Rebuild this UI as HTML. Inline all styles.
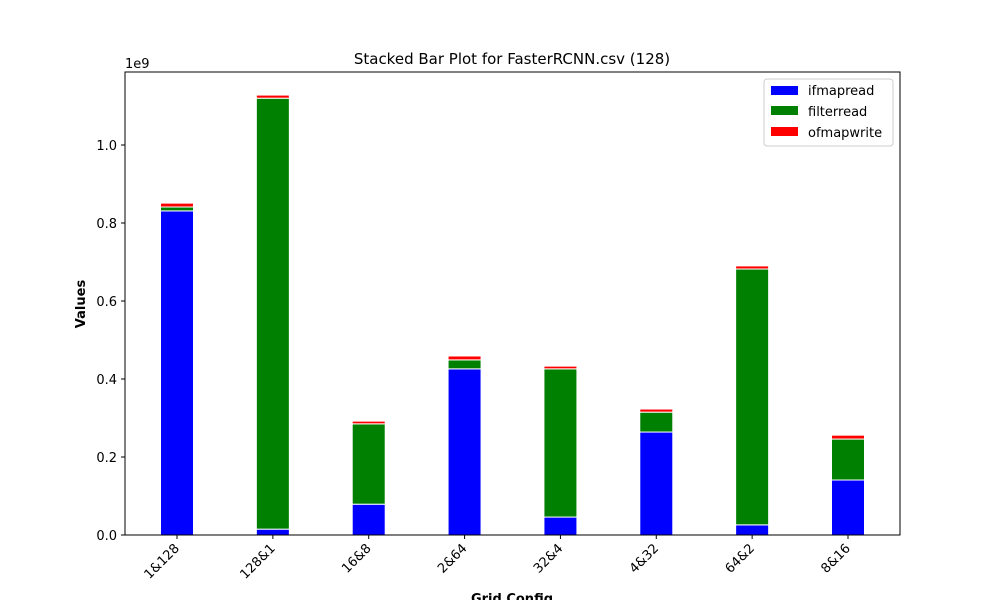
<!DOCTYPE html>
<html><head><meta charset="utf-8"><style>
body{margin:0;background:#fff;font-family:"Liberation Sans","DejaVu Sans",sans-serif;}
</style></head><body>
<svg id="chart" width="1000" height="600" xmlns="http://www.w3.org/2000/svg" font-family="DejaVu Sans, Liberation Sans, sans-serif">
<rect width="1000" height="600" fill="#fff"/>
<text x="512" y="64" text-anchor="middle" font-size="15">Stacked Bar Plot for FasterRCNN.csv (128)</text>
<text x="125" y="68" font-size="13">1e9</text>
<text x="85" y="304" text-anchor="middle" font-size="13" font-weight="bold" transform="rotate(-90 85 304)">Values</text>
<text x="512" y="603" text-anchor="middle" font-size="13" font-weight="bold">Grid Config</text>
<g id="bars"></g><g id="axes"></g>
<g>
<rect x="764" y="79" width="129" height="67" fill="#fff" stroke="#ccc" rx="3"/>
<rect x="771" y="86" width="27" height="9" fill="#0000ff"/>
<text x="808" y="95" font-size="13">ifmapread</text>
<rect x="771" y="106" width="27" height="9" fill="#008000"/>
<text x="808" y="116" font-size="13">filterread</text>
<rect x="771" y="127" width="27" height="9" fill="#ff0000"/>
<text x="808" y="137" font-size="13">ofmapwrite</text>
</g>
</svg>
<script>
const categories=["1&128","128&1","16&8","2&64","32&4","4&32","64&2","8&16"];
const ifmapread=[0.831,0.015,0.079,0.426,0.046,0.264,0.026,0.141];
const filterread=[0.010,1.105,0.206,0.023,0.380,0.051,0.656,0.105];
const ofmapwrite=[0.010,0.008,0.007,0.010,0.007,0.008,0.008,0.010];
const yTicks=[0,0.2,0.4,0.6,0.8,1.0];
const yTickLabels=["0.0","0.2","0.4","0.6","0.8","1.0"];
const NS="http://www.w3.org/2000/svg";
const L=125,R=900,T=72,B=535;
const y=v=>B-v*390;
const step=(848-177)/(categories.length-1);
const x=i=>177+step*i;
const bw=33;
const bars=document.getElementById('bars'),axes=document.getElementById('axes');
function mk(tag,attrs,parent){const e=document.createElementNS(NS,tag);for(const k in attrs)e.setAttribute(k,attrs[k]);parent.appendChild(e);return e;}
const series=[["ifmapread",ifmapread,"#0000ff"],["filterread",filterread,"#008000"],["ofmapwrite",ofmapwrite,"#ff0000"]];
categories.forEach((c,i)=>{
  let base=0;
  series.forEach(([name,vals,col])=>{
    const v=vals[i];
    const r=mk('rect',{x:x(i)-bw/2,y:y(base+v),width:bw,height:y(base)-y(base+v),fill:col,stroke:'#fff','stroke-width':1},bars);
    
    
    base+=v;
  });
  const tk=mk('line',{x1:x(i),x2:x(i),y1:B,y2:B+4,stroke:'#000'},axes);
  
  
  const t=mk('text',{x:x(i)+3,y:B+14,'font-size':13,'text-anchor':'end',transform:`rotate(-45 ${x(i)+3} ${B+14})`},axes);
  t.textContent=c;
  
  
});
yTicks.forEach((v,i)=>{
  const tk=mk('line',{x1:L-4,x2:L,y1:y(v),y2:y(v),stroke:'#000'},axes);
  
  
  const t=mk('text',{x:L-8,y:y(v)+5,'font-size':13,'text-anchor':'end'},axes);
  t.textContent=yTickLabels[i];
  
  
});
const f=mk('rect',{x:L,y:T,width:R-L,height:B-T,fill:'none',stroke:'#000','stroke-width':1},axes);


</script>
</body></html>
